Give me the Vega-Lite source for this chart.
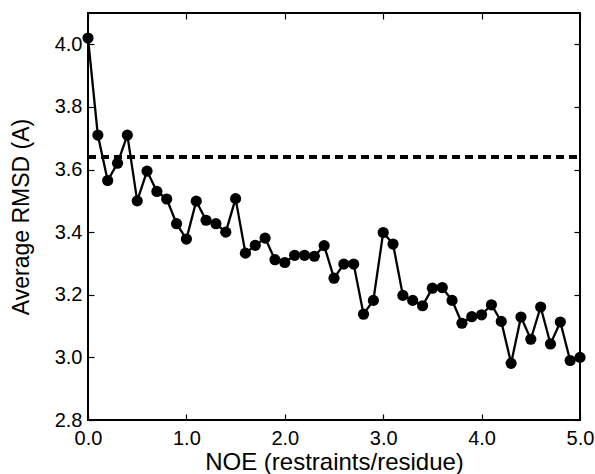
{
  "$schema": "https://vega.github.io/schema/vega-lite/v6.json",
  "width": 492,
  "height": 407,
  "autosize": "none",
  "padding": {"left": 88, "top": 13, "right": 15, "bottom": 54},
  "background": "white",
  "config": {
    "font": "Liberation Sans",
    "view": {"stroke": "black", "strokeWidth": 2},
    "axis": {
      "domain": false,
      "grid": false,
      "ticks": true,
      "tickColor": "black",
      "tickSize": -6,
      "tickWidth": 1.2,
      "labelColor": "black",
      "labelFont": "Liberation Sans",
      "labelFontSize": 20,
      "labelFontWeight": "normal",
      "titleColor": "black",
      "titleFont": "Liberation Sans",
      "titleFontWeight": "normal"
    }
  },
  "data": {
    "values": [
      {"noe": 0.0, "rmsd": 4.02},
      {"noe": 0.1, "rmsd": 3.71},
      {"noe": 0.2, "rmsd": 3.565},
      {"noe": 0.3, "rmsd": 3.62},
      {"noe": 0.4, "rmsd": 3.71},
      {"noe": 0.5, "rmsd": 3.50},
      {"noe": 0.6, "rmsd": 3.595},
      {"noe": 0.7, "rmsd": 3.53},
      {"noe": 0.8, "rmsd": 3.506},
      {"noe": 0.9, "rmsd": 3.427},
      {"noe": 1.0, "rmsd": 3.378},
      {"noe": 1.1, "rmsd": 3.499},
      {"noe": 1.2, "rmsd": 3.438},
      {"noe": 1.3, "rmsd": 3.427},
      {"noe": 1.4, "rmsd": 3.40},
      {"noe": 1.5, "rmsd": 3.507},
      {"noe": 1.6, "rmsd": 3.333},
      {"noe": 1.7, "rmsd": 3.358},
      {"noe": 1.8, "rmsd": 3.381},
      {"noe": 1.9, "rmsd": 3.312},
      {"noe": 2.0, "rmsd": 3.303},
      {"noe": 2.1, "rmsd": 3.326},
      {"noe": 2.2, "rmsd": 3.326},
      {"noe": 2.3, "rmsd": 3.323},
      {"noe": 2.4, "rmsd": 3.357},
      {"noe": 2.5, "rmsd": 3.253},
      {"noe": 2.6, "rmsd": 3.298},
      {"noe": 2.7, "rmsd": 3.298},
      {"noe": 2.8, "rmsd": 3.138},
      {"noe": 2.9, "rmsd": 3.182},
      {"noe": 3.0, "rmsd": 3.399},
      {"noe": 3.1, "rmsd": 3.362},
      {"noe": 3.2, "rmsd": 3.198},
      {"noe": 3.3, "rmsd": 3.182},
      {"noe": 3.4, "rmsd": 3.165},
      {"noe": 3.5, "rmsd": 3.221},
      {"noe": 3.6, "rmsd": 3.223},
      {"noe": 3.7, "rmsd": 3.182},
      {"noe": 3.8, "rmsd": 3.109},
      {"noe": 3.9, "rmsd": 3.13},
      {"noe": 4.0, "rmsd": 3.136},
      {"noe": 4.1, "rmsd": 3.168},
      {"noe": 4.2, "rmsd": 3.115},
      {"noe": 4.3, "rmsd": 2.981},
      {"noe": 4.4, "rmsd": 3.129},
      {"noe": 4.5, "rmsd": 3.058},
      {"noe": 4.6, "rmsd": 3.161},
      {"noe": 4.7, "rmsd": 3.043},
      {"noe": 4.8, "rmsd": 3.113},
      {"noe": 4.9, "rmsd": 2.99},
      {"noe": 5.0, "rmsd": 3.0}
    ]
  },
  "resolve": {"axis": {"x": "independent", "y": "independent"}},
  "layer": [
    {
      "mark": {"type": "line", "color": "black", "strokeWidth": 2.3, "point": {"filled": true, "color": "black", "size": 125, "opacity": 1}},
      "encoding": {
        "x": {
          "field": "noe",
          "type": "quantitative",
          "title": "NOE (restraints/residue)",
          "scale": {"domain": [0, 5], "nice": false, "zero": false},
          "axis": {"values": [0, 1, 2, 3, 4, 5], "format": ".1f", "labelPadding": 14, "titlePadding": 2, "titleFontSize": 24, "labelFlush": false}
        },
        "y": {
          "field": "rmsd",
          "type": "quantitative",
          "title": "Average RMSD (A)",
          "scale": {"domain": [2.8, 4.1], "nice": false, "zero": false},
          "axis": {"values": [2.8, 3.0, 3.2, 3.4, 3.6, 3.8, 4.0], "format": ".1f", "labelPadding": 12, "titlePadding": 21, "titleFontSize": 23, "labelFlush": false}
        }
      }
    },
    {
      "mark": {"type": "rule", "color": "black", "strokeWidth": 2.5, "strokeDash": [8, 5]},
      "encoding": {
        "y": {"datum": 3.64, "type": "quantitative", "axis": {"orient": "right", "values": [2.8, 3.0, 3.2, 3.4, 3.6, 3.8, 4.0], "labels": false, "title": null}},
        "x": {"datum": 0, "type": "quantitative", "axis": {"orient": "top", "values": [0, 1, 2, 3, 4, 5], "labels": false, "title": null}},
        "x2": {"datum": 5}
      }
    }
  ]
}
